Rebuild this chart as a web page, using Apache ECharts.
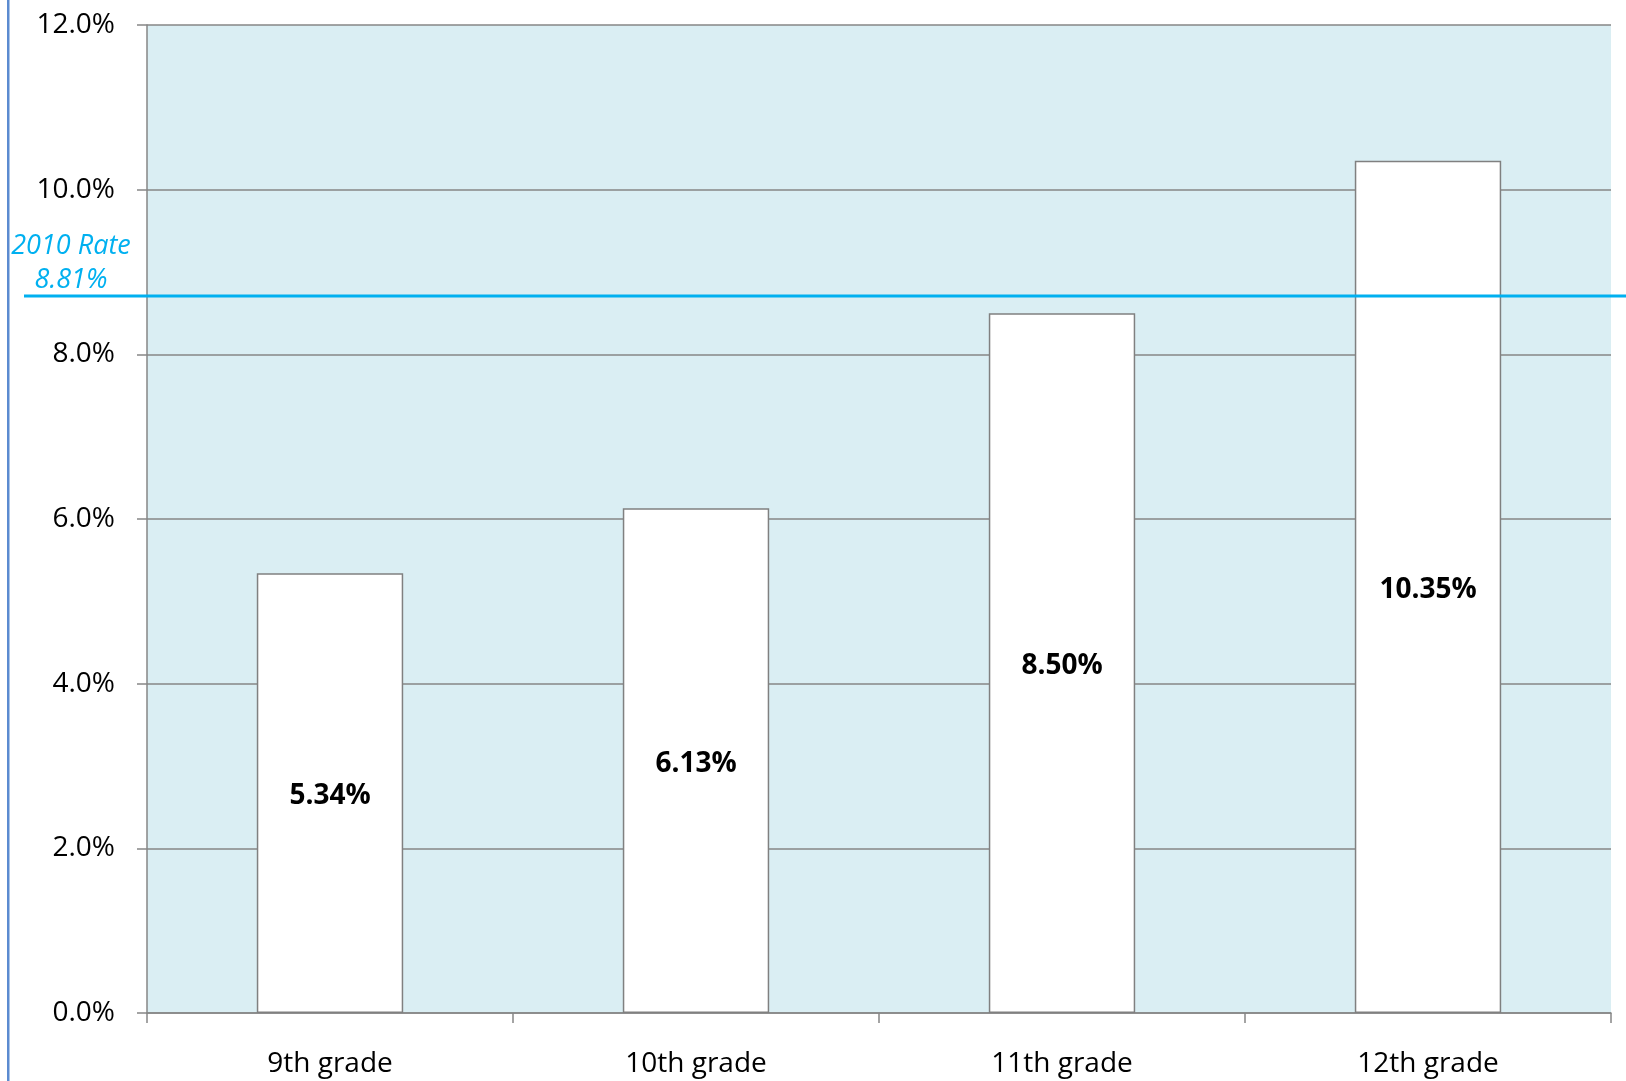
<!DOCTYPE html>
<html>
<head>
<meta charset="utf-8">
<script src="https://cdn.jsdelivr.net/npm/echarts@6/dist/echarts.min.js"></script>
<style>
html,body{margin:0;padding:0;background:#fff;}
#chart{width:1626px;height:1081px;}
</style>
</head>
<body>
<div id="chart"></div>
<script>
const categories = ['9th grade', '10th grade', '11th grade', '12th grade'];
const rates = [5.34, 6.13, 8.50, 10.35];
const yTicks = [0, 2, 4, 6, 8, 10, 12];
const rateLabel = '2010 Rate';
const rateValue = 8.81;      // printed value
const rateLineLevel = 8.71;  // where the reference line is drawn in the picture

const FONT = '"Open Sans", "Noto Sans", sans-serif';
const chart = echarts.init(document.getElementById('chart'), null, {renderer: 'canvas'});

const option = {
  animation: false,
  backgroundColor: '#ffffff',
  grid: [
    {left: 147, right: 15, top: 25, bottom: 68, show: true, backgroundColor: '#DAEEF3', borderWidth: 0},
    {left: 24, right: 0, top: 25, bottom: 68, show: false}
  ],
  xAxis: [
    {
      type: 'category', gridIndex: 0, data: categories,
      axisLine: {show: true, lineStyle: {color: '#868686', width: 1.5}},
      axisTick: {show: true, length: 10, interval: 0, lineStyle: {color: '#868686', width: 1.5}},
      axisLabel: {color: '#000', fontSize: 28, fontFamily: FONT, margin: 37, interval: 0},
      splitLine: {show: false}
    },
    {type: 'value', gridIndex: 1, min: 0, max: 1, show: false}
  ],
  yAxis: [
    {
      type: 'value', gridIndex: 0, min: yTicks[0], max: yTicks[yTicks.length - 1], interval: 2,
      axisLine: {show: true, lineStyle: {color: '#868686', width: 1.5}},
      axisTick: {show: true, length: 10, lineStyle: {color: '#868686', width: 1.5}},
      axisLabel: {color: '#000', fontSize: 28, fontFamily: FONT, margin: 32,
        formatter: v => v.toFixed(1) + '%'},
      splitLine: {show: true, lineStyle: {color: '#868686', width: 1.5}}
    },
    {type: 'value', gridIndex: 1, min: yTicks[0], max: yTicks[yTicks.length - 1], show: false}
  ],
  series: [
    {
      type: 'bar', xAxisIndex: 0, yAxisIndex: 0, data: rates, barWidth: '40%',
      itemStyle: {color: '#ffffff', borderColor: '#808080', borderWidth: 1.5},
      label: {show: true, position: 'inside', offset: [0, 3], color: '#000', fontWeight: 'bold',
        fontSize: 28, fontFamily: FONT, formatter: p => p.value.toFixed(2) + '%'},
      z: 2
    },
    {
      type: 'line', xAxisIndex: 1, yAxisIndex: 1, symbol: 'none', silent: true,
      data: [[0, rateLineLevel], [1, rateLineLevel]],
      lineStyle: {color: '#00B0F0', width: 3}, z: 5
    }
  ],
  graphic: [
    {type: 'rect', left: 7, top: 0, shape: {x: 0, y: 0, width: 2.5, height: 1081},
      style: {fill: '#5B8BD0'}},
    {type: 'text', x: 71, y: 246, style: {text: rateLabel, fill: '#00B0F0', font: 'italic 27px ' + FONT,
      textAlign: 'center', textVerticalAlign: 'middle'}},
    {type: 'text', x: 71, y: 280, style: {text: rateValue.toFixed(2) + '%', fill: '#00B0F0', font: 'italic 27px ' + FONT,
      textAlign: 'center', textVerticalAlign: 'middle'}}
  ]
};
chart.setOption(option);
</script>
</body>
</html>
